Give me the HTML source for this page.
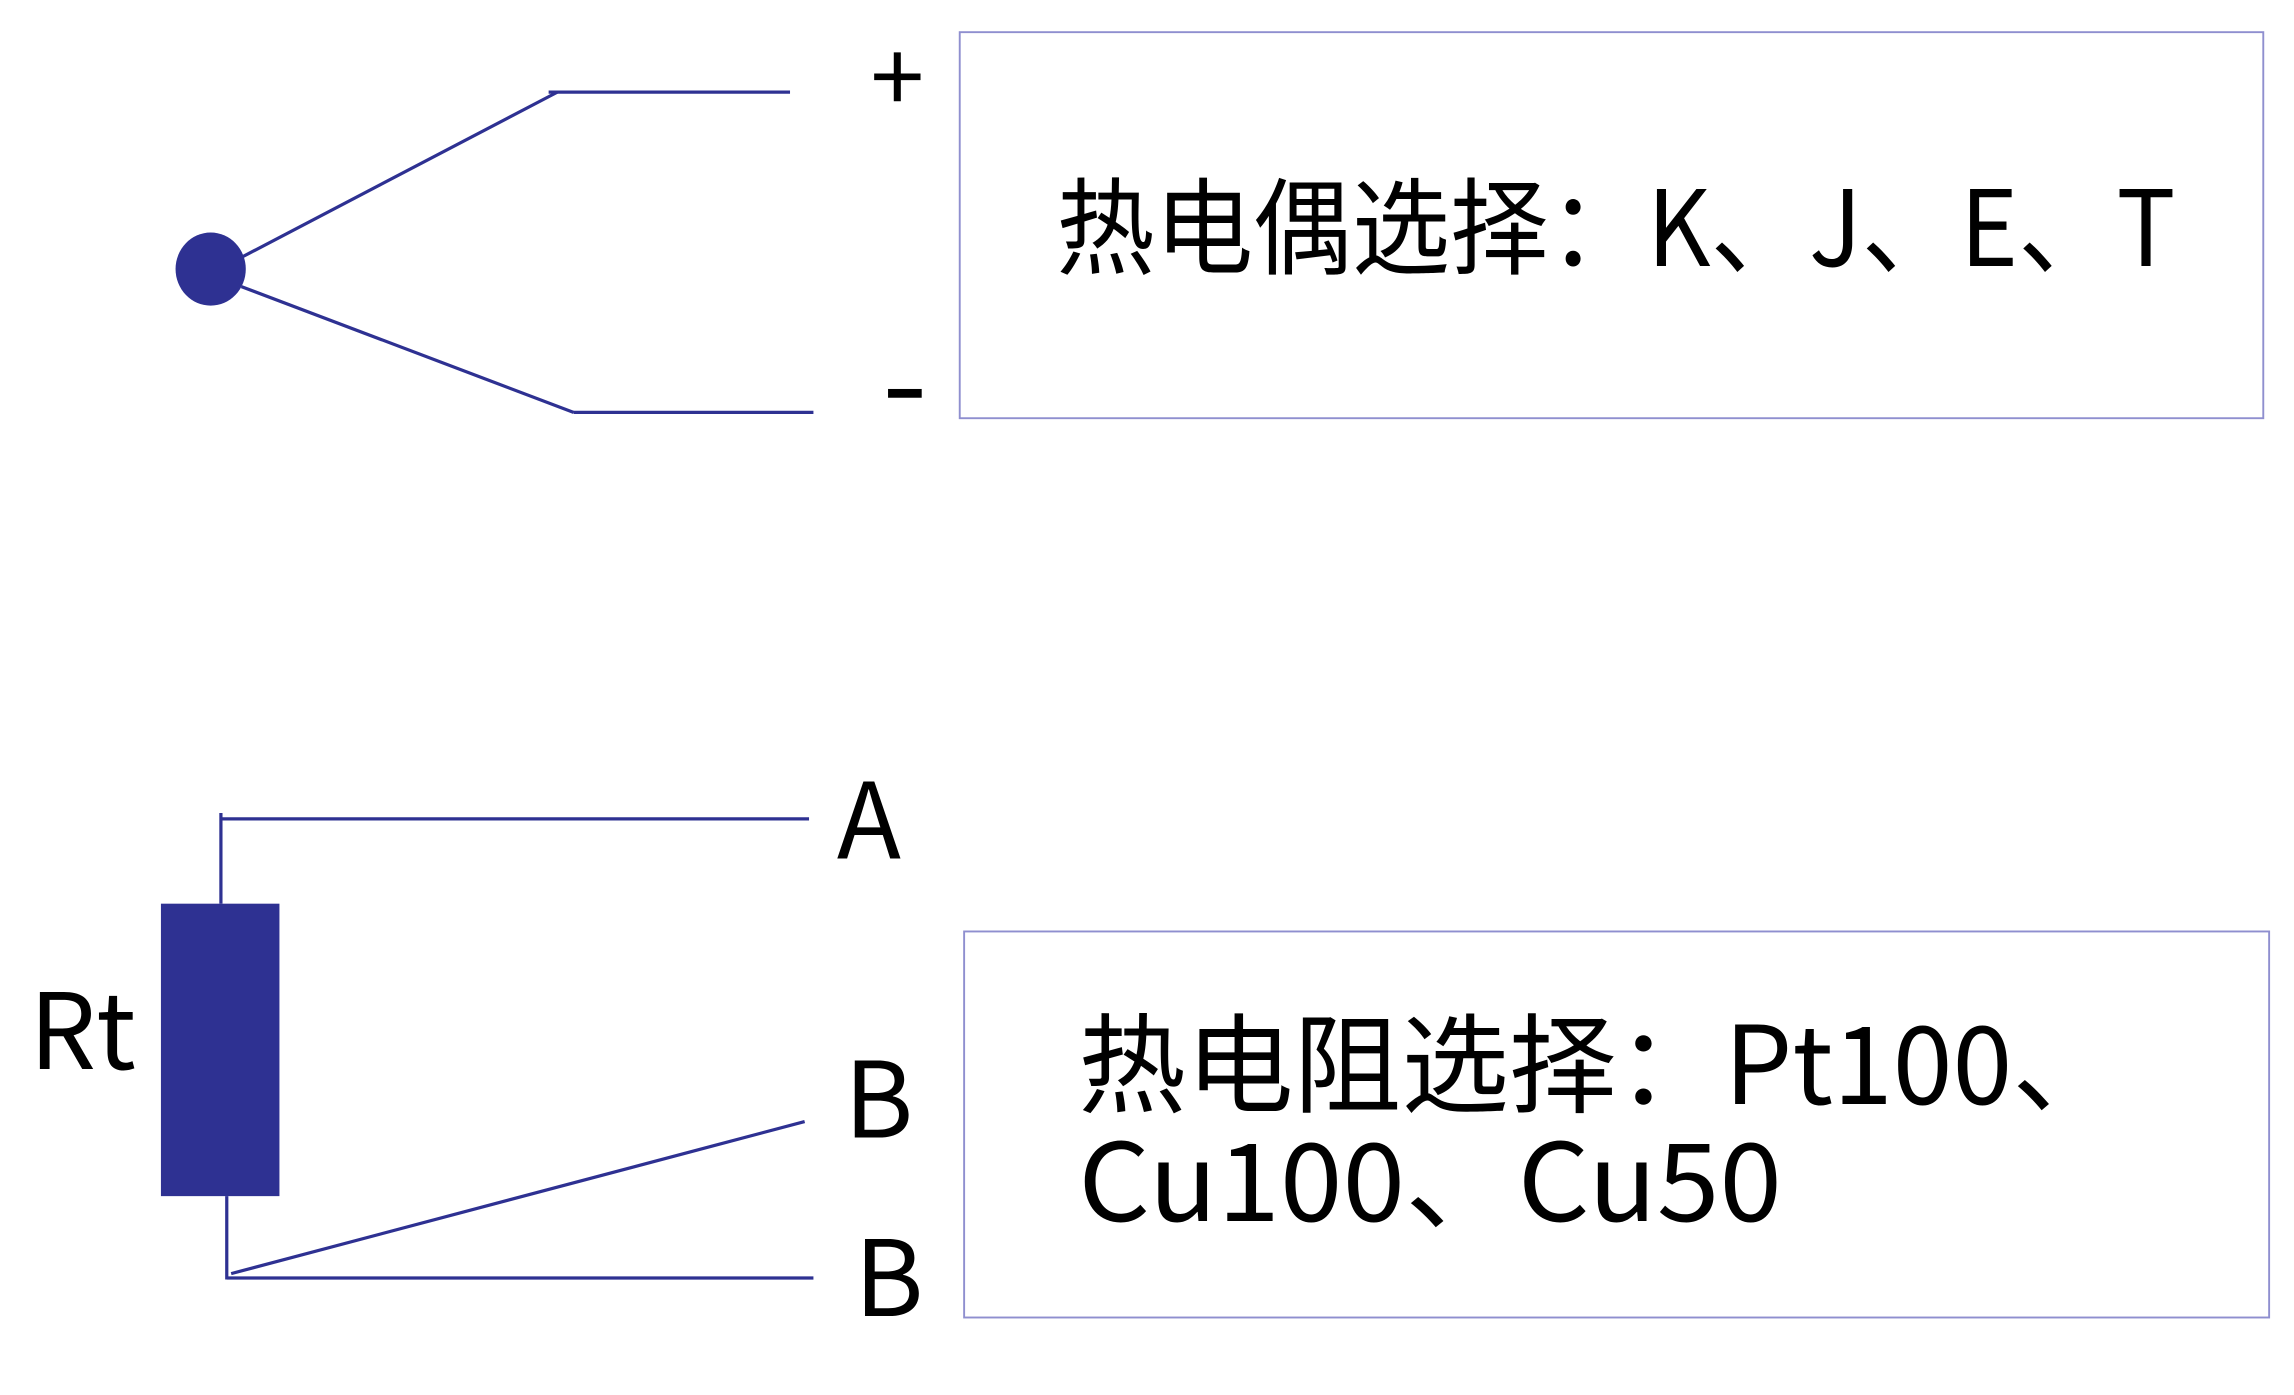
<!DOCTYPE html>
<html><head><meta charset="utf-8"><style>
html,body{margin:0;padding:0;background:#fff;}
svg{display:block;}
text{font-family:"Noto Sans CJK SC","Liberation Sans",sans-serif;fill:#000;}
</style></head><body>
<svg width="2294" height="1395" viewBox="0 0 1568 954" preserveAspectRatio="none" xmlns="http://www.w3.org/2000/svg">
<g stroke="#2e3192" stroke-width="2.2" fill="none">
<line x1="165" y1="176" x2="381" y2="63"/>
<line x1="375" y1="63" x2="540" y2="63"/>
<line x1="165" y1="196" x2="392" y2="282"/>
<line x1="392" y1="282" x2="556" y2="282"/>
<line x1="151" y1="556" x2="151" y2="618"/>
<line x1="151" y1="560" x2="553" y2="560"/>
<line x1="155" y1="818" x2="155" y2="875"/>
<line x1="155" y1="874" x2="556" y2="874"/>
<line x1="158" y1="871" x2="550" y2="767"/>
</g>
<ellipse cx="144" cy="184" rx="24" ry="25" fill="#2e3192"/>
<rect x="110" y="618" width="81" height="200" fill="#2e3192"/>
<rect x="656" y="22" width="891" height="264" fill="none" stroke="#8f8fcf" stroke-width="1.3"/>
<rect x="659" y="637" width="892" height="264" fill="none" stroke="#8f8fcf" stroke-width="1.3"/>
<text x="595" y="77" font-size="66">+</text>
<rect x="607" y="266" width="23" height="6" fill="#000"/>
<text x="722" y="182" font-size="72" textLength="765" lengthAdjust="spacingAndGlyphs">热电偶选择：K、J、E、T</text>
<text x="572" y="587" font-size="72">A</text>
<text x="577" y="778" font-size="72">B</text>
<text x="584" y="900" font-size="72">B</text>
<text x="20" y="731" font-size="72">Rt</text>
<text x="737" y="755" font-size="74" textLength="712" lengthAdjust="spacingAndGlyphs">热电阻选择：Pt100、</text>
<text x="737" y="835" font-size="74" textLength="481" lengthAdjust="spacingAndGlyphs">Cu100、Cu50</text>
</svg>
</body></html>
